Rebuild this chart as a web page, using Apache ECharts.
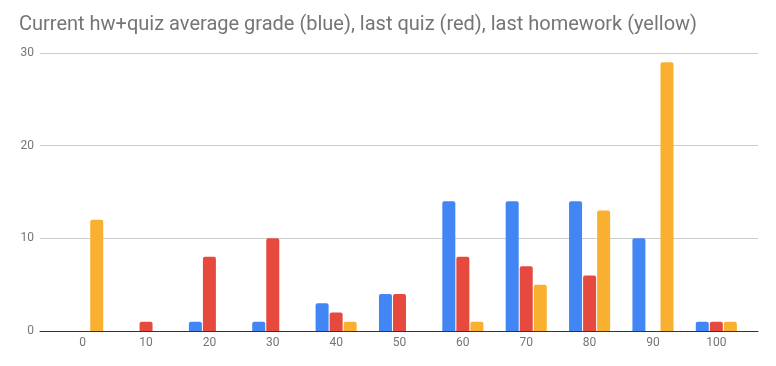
<!DOCTYPE html>
<html><head><meta charset="utf-8">
<script src="https://cdn.jsdelivr.net/npm/echarts@6/dist/echarts.min.js"></script>
<style>html,body{margin:0;padding:0;background:#fff}#c{width:776px;height:366px}</style>
</head><body><div id="c"></div>
<script>
const categories = ['0','10','20','30','40','50','60','70','80','90','100'];
const blueAvg   = [0, 0, 1, 1, 3, 4, 14, 14, 14, 10, 1];
const redQuiz   = [0, 1, 8, 10, 2, 4, 8, 7, 6, 0, 1];
const yellowHw  = [12, 0, 0, 0, 1, 0, 1, 5, 13, 29, 1];
const yTicks = [0, 10, 20, 30];
const titleText = 'Current hw+quiz average grade (blue), last quiz (red), last homework (yellow)';

const chart = echarts.init(document.getElementById('c'));
const txt = '#757575';
const mk = (name, data, color) => ({
  name, type: 'bar', data: data.map(v => v === 0 ? null : v), xAxisIndex: 1, yAxisIndex: 1,
  barWidth: 13, barGap: '8%',
  itemStyle: { color, borderRadius: [2, 2, 0, 0] }
});
chart.setOption({
  animation: false,
  title: { text: titleText, left: 14, top: 10,
    textStyle: { fontFamily: 'Roboto', fontSize: 20, fontWeight: 'normal', color: txt } },
  grid: [
    { left: 40, right: 18, top: 53, bottom: 35 },
    { left: 51, right: 28, top: 53, bottom: 35 }
  ],
  xAxis: [
    { gridIndex: 0, type: 'value', min: 0, max: 1, show: true,
      axisLine: { show: true, lineStyle: { color: '#333', width: 1 } },
      axisTick: { show: false }, axisLabel: { show: false }, splitLine: { show: false } },
    { gridIndex: 1, type: 'category', data: categories,
      axisLine: { show: false }, axisTick: { show: false },
      axisLabel: { color: txt, fontFamily: 'Roboto', fontSize: 12, margin: 6 } }
  ],
  yAxis: [
    { gridIndex: 0, type: 'value', min: yTicks[0], max: yTicks[yTicks.length - 1], interval: 10,
      axisLine: { show: false }, axisTick: { show: false },
      axisLabel: { color: txt, fontFamily: 'Roboto', fontSize: 12, margin: 6 },
      splitLine: { lineStyle: { color: '#cccccc', width: 1 } } },
    { gridIndex: 1, type: 'value', min: 0, max: 30, interval: 10, show: false, splitLine: { show: false } }
  ],
  series: [
    mk('current', blueAvg, '#4285F4'),
    mk('quiz', redQuiz, '#E64A3F'),
    mk('homework', yellowHw, '#F9B030')
  ]
});
</script></body></html>
